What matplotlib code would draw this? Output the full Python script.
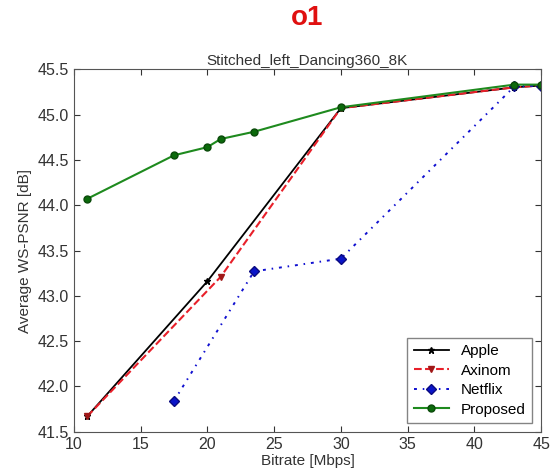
import numpy as np
import matplotlib
matplotlib.use('Agg')
from matplotlib import pyplot as plt

plt.rcParams['font.family'] = ['Liberation Sans', 'DejaVu Sans']

# data
apple_x = [11, 20, 30, 43, 45]
apple_y = [41.67, 43.16, 45.07, 45.30, 45.32]
axinom_x = [11, 21, 30, 43, 45]
axinom_y = [41.67, 43.21, 45.07, 45.30, 45.32]
netflix_x = [17.5, 23.5, 30, 43, 45]
netflix_y = [41.84, 43.27, 43.41, 45.31, 45.32]
proposed_x = [11, 17.5, 20, 21, 23.5, 30, 43, 45]
proposed_y = [44.07, 44.55, 44.64, 44.73, 44.81, 45.08, 45.33, 45.33]

xticks = np.arange(10, 46, 5)
yticks = np.arange(41.5, 45.6, 0.5)

fig = plt.figure(figsize=(5.51, 4.74), dpi=100)
ax = fig.add_axes([0.134, 0.089, 0.848, 0.765])

ax.plot(apple_x, apple_y, color='black', ls='-', marker='*', ms=5, lw=1.3, label='Apple')
ax.plot(axinom_x, axinom_y, color='#e8202a', ls='--', marker='v', ms=5, lw=1.5,
        mfc='#a01818', mec='#a01818', label='Axinom')
ax.plot(netflix_x, netflix_y, color='#1010d0', ls='-.', marker='D', ms=5, lw=1.4,
        mfc='#0a14c8', mec='#0a0a80', dashes=[1.5, 3, 0.8, 3], label='Netflix')
ax.plot(proposed_x, proposed_y, color='#1e8a1e', ls='-', marker='o', ms=5, lw=1.5,
        mfc='#0b6a0b', mec='#0a4a0a', label='Proposed')

ax.set_xlim(10, 45)
ax.set_ylim(41.5, 45.5)
ax.set_xticks(xticks)
ax.set_yticks(yticks)
ax.tick_params(direction='in', top=True, right=True, labelsize=11.5, length=4, colors='#333333')
for s in ax.spines.values():
    s.set_color('#555555')

ax.set_xlabel('Bitrate [Mbps]', fontsize=11, color='#333333', labelpad=2)
ax.set_ylabel('Average WS-PSNR [dB]', fontsize=11, color='#333333', labelpad=4)
ax.set_title('Stitched_left_Dancing360_8K', fontsize=11, color='#333333', pad=3)
fig.text(0.557, 0.962, 'o1', color='#e01010', fontsize=20, fontweight='bold', ha='center', va='center')

leg = ax.legend(loc='lower right', fontsize=11, frameon=True, fancybox=False, handlelength=2.3,
                borderaxespad=0.6, labelspacing=0.35)
leg.get_frame().set_edgecolor('#666666')

fig.savefig('out.png', dpi=100)
